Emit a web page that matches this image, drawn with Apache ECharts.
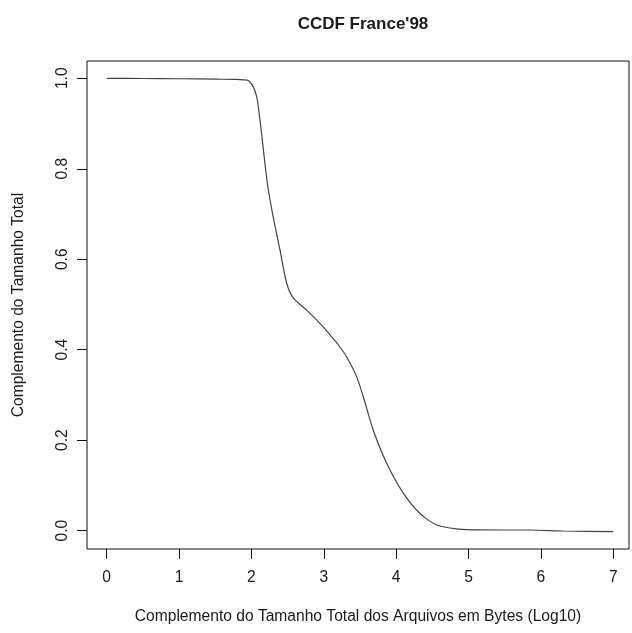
<!DOCTYPE html>
<html>
<head>
<meta charset="utf-8">
<script src="https://cdn.jsdelivr.net/npm/echarts@6/dist/echarts.min.js"></script>
<style>
  html, body { margin: 0; padding: 0; background: #fff; }
  #chart { width: 632px; height: 633px; }
</style>
</head>
<body>
<div id="chart"></div>
<script>
// Log10 of total file size (bytes)
const logSize = [0, 0.5, 1.0, 1.5, 1.8, 1.888, 1.957, 2.026, 2.073, 2.095, 2.14, 2.22, 2.30, 2.395,
  2.487, 2.58, 2.76, 2.99, 3.085, 3.2, 3.316, 3.455, 3.546, 3.684, 3.869, 4.098, 4.33, 4.56,
  4.836, 5.16, 5.85, 6.31, 7.0];
// Complementary cumulative share of the total size
const ccdf = [1.0, 0.9995, 0.999, 0.998, 0.9975, 0.9965, 0.995, 0.981, 0.959, 0.937, 0.878, 0.768,
  0.694, 0.620, 0.547, 0.514, 0.488, 0.451, 0.433, 0.411, 0.384, 0.340, 0.296, 0.222, 0.149,
  0.083, 0.038, 0.0126, 0.004, 0.0016, 0.0015, -0.0007, -0.002];

const xTicks = [0, 1, 2, 3, 4, 5, 6, 7];
const yTicks = [0, 0.2, 0.4, 0.6, 0.8, 1.0];

const chartTitle = "CCDF France'98";
const xTitle = 'Complemento do Tamanho Total dos Arquivos em Bytes (Log10)';
const yTitle = 'Complemento do Tamanho Total';

const points = logSize.map((x, i) => [x, ccdf[i]]);
const font = '"Liberation Sans", Arial, Helvetica, sans-serif';
const ink = '#1a1a1a';

const chart = echarts.init(document.getElementById('chart'), null, { renderer: 'canvas' });
chart.setOption({
  animation: false,
  backgroundColor: '#ffffff',
  title: {
    text: chartTitle,
    left: 358,
    top: 11,
    textAlign: 'center',
    textStyle: { fontFamily: font, fontSize: 17, fontWeight: 'bold', color: ink }
  },
  grid: {
    left: 87, right: 3, top: 61, bottom: 84,
    show: true, borderColor: '#111', borderWidth: 1, backgroundColor: 'transparent'
  },
  xAxis: {
    type: 'value',
    min: -0.272, max: 7.217,
    name: xTitle,
    nameLocation: 'middle',
    nameGap: 60,
    nameTextStyle: { fontFamily: font, fontSize: 15.6, color: ink },
    axisLine: { show: false, onZero: false },
    splitLine: { show: false },
    axisTick: { show: true, length: 10, inside: false, customValues: xTicks, lineStyle: { color: '#111', width: 1 } },
    axisLabel: {
      customValues: xTicks, margin: 21,
      fontFamily: font, fontSize: 15.6, color: ink,
      formatter: v => String(v)
    }
  },
  yAxis: {
    type: 'value',
    min: -0.0405, max: 1.0382,
    name: yTitle,
    nameLocation: 'middle',
    nameGap: 60,
    nameRotate: 90,
    nameTextStyle: { fontFamily: font, fontSize: 15.6, color: ink },
    axisLine: { show: false, onZero: false },
    splitLine: { show: false },
    axisTick: { show: true, length: 10, inside: false, customValues: yTicks, lineStyle: { color: '#111', width: 1 } },
    axisLabel: {
      customValues: yTicks, margin: 16, rotate: 90,
      fontFamily: font, fontSize: 15.6, color: ink,
      formatter: v => v.toFixed(1)
    }
  },
  series: [{
    type: 'line',
    data: points,
    showSymbol: false,
    smooth: 0.25,
    lineStyle: { color: '#444', width: 1.2 },
    silent: true
  }]
});
</script>
</body>
</html>
